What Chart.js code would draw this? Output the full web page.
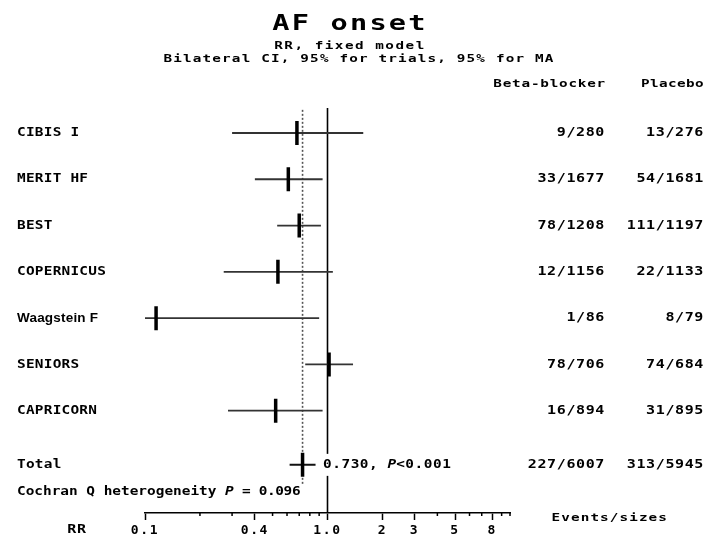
<!DOCTYPE html>
<html>
<head>
<meta charset="utf-8">
<script src="https://cdn.jsdelivr.net/npm/chart.js@4/dist/chart.umd.min.js"></script>
<style>
html,body{margin:0;padding:0;background:#fff;}
#wrap{width:707px;height:539px;position:relative;}
</style>
</head>
<body>
<div id="wrap"><canvas id="c" width="707" height="539"></canvas></div>
<script>
// ---- data ----
const studies = ['CIBIS I', 'MERIT HF', 'BEST', 'COPERNICUS', 'Waagstein F', 'SENIORS', 'CAPRICORN'];
const rr      = [0.68, 0.61, 0.70, 0.535, 0.115, 1.02, 0.52];
const ciLow   = [0.30, 0.40, 0.53, 0.27, 0.015, 0.755, 0.285];
const ciHigh  = [1.57, 0.94, 0.92, 1.07, 0.90, 1.38, 0.94];
const betaBlockerCounts = ['9/280', '33/1677', '78/1208', '12/1156', '1/86', '78/706', '16/894'];
const placeboCounts     = ['13/276', '54/1681', '111/1197', '22/1133', '8/79', '74/684', '31/895'];
const totalRR = 0.730;
const totalLow = 0.62;
const totalHigh = 0.86;
const totalBetaBlocker = '227/6007';
const totalPlacebo = '313/5945';
const totalP = '<0.001';
const heterogeneityP = '0.096';
const tickValues = [0.1, 0.2, 0.3, 0.4, 0.5, 0.6, 0.7, 0.8, 0.9, 1, 2, 3, 4, 5, 6, 7, 8, 9, 10];
const labeledTicks = [0.1, 0.4, 1, 2, 3, 5, 8];
const labeledTickText = ['0.1', '0.4', '1.0', '2', '3', '5', '8'];

// ---- layout helpers ----
const rowY = i => i + 1;                 // study rows
const totalY = studies.length + 1.17;    // total row
const MONO = '"DejaVu Sans Mono", monospace';

const datasets = [];
// markers (drawn on top)
datasets.push({
  type: 'scatter',
  data: studies.map((s, i) => ({x: rr[i], y: rowY(i)})).concat([{x: totalRR, y: totalY}]),
  pointStyle: 'line', rotation: 90, radius: 12, hoverRadius: 12,
  borderWidth: 3.5, borderColor: '#000', backgroundColor: '#000'
});
// confidence intervals
studies.forEach((s, i) => {
  datasets.push({
    type: 'line',
    data: [{x: ciLow[i], y: rowY(i)}, {x: ciHigh[i], y: rowY(i)}],
    borderColor: '#333', borderWidth: 1.8, pointRadius: 0, tension: 0
  });
});
datasets.push({
  type: 'line',
  data: [{x: totalLow, y: totalY}, {x: totalHigh, y: totalY}],
  borderColor: '#111', borderWidth: 2, pointRadius: 0, tension: 0
});
// no-effect line
datasets.push({
  type: 'line',
  data: [{x: 1, y: 0.46}, {x: 1, y: 9.3}],
  borderColor: '#000', borderWidth: 1.6, pointRadius: 0
});
// pooled estimate dotted line
datasets.push({
  type: 'line',
  data: [{x: totalRR, y: 0.5}, {x: totalRR, y: 8.6}],
  borderColor: '#555', borderWidth: 1.6, borderDash: [2, 2], pointRadius: 0
});

function drawText(ctx, s, x, y, o) {
  const sx = o.sx || 1;
  ctx.save();
  ctx.font = (o.italic ? 'italic ' : '') + (o.bold === false ? '' : 'bold ') + o.size + 'px ' + (o.family || MONO);
  ctx.letterSpacing = (o.spacing || 0) + 'px';
  ctx.fillStyle = '#000';
  ctx.textBaseline = 'middle';
  ctx.textAlign = o.align || 'left';
  ctx.translate(x, y);
  ctx.scale(sx, 1);
  ctx.fillText(s, 0, 0);
  const w = ctx.measureText(s).width * sx;
  ctx.restore();
  return w;
}

const textPlugin = {
  id: 'forestText',
  beforeDraw(chart) {
    chart.ctx.letterSpacing = '1.6px';
  },
  afterDatasetsDraw(chart) {
    const ctx = chart.ctx;
    const xs = chart.scales.x, ys = chart.scales.y;
    // titles
    drawText(ctx, 'AF onset', 350, 24, {size: 22, spacing: 1.7, sx: 1.3, align: 'center'});
    drawText(ctx, 'RR, fixed model', 350, 46, {size: 11, spacing: 1.15, sx: 1.3, align: 'center'});
    drawText(ctx, 'Bilateral CI, 95% for trials, 95% for MA', 359, 59, {size: 11, spacing: 0.9, sx: 1.3, align: 'center'});
    drawText(ctx, 'Beta-blocker', 606, 84, {size: 11, spacing: 0.6, sx: 1.3, align: 'right'});
    drawText(ctx, 'Placebo', 704, 84, {size: 11, spacing: 0.3, sx: 1.3, align: 'right'});
    // rows
    studies.forEach((s, i) => {
      const y = ys.getPixelForValue(rowY(i));
      if (s === 'Waagstein F') {
        drawText(ctx, s, 17, y, {size: 13.5, spacing: 0.2, family: '"Liberation Sans", Arial, sans-serif'});
      } else {
        drawText(ctx, s, 17, y, {size: 12, spacing: 0.2, sx: 1.2});
      }
      drawText(ctx, betaBlockerCounts[i], 605, y, {size: 12, spacing: 0.5, sx: 1.25, align: 'right'});
      drawText(ctx, placeboCounts[i], 704, y, {size: 12, spacing: 0.5, sx: 1.25, align: 'right'});
    });
    // total row
    const ty = ys.getPixelForValue(totalY);
    drawText(ctx, 'Total', 17, ty, {size: 12, spacing: 0.2, sx: 1.2});
    ctx.save();
    ctx.fillStyle = '#fff';
    ctx.fillRect(318, ty - 11, 140, 22);
    ctx.restore();
    let x = 323;
    x += drawText(ctx, totalRR.toFixed(3) + ', ', x, ty, {size: 12, spacing: 0.45, sx: 1.2});
    x += drawText(ctx, 'P', x, ty, {size: 12, spacing: 0, sx: 1.2, italic: true});
    drawText(ctx, totalP, x, ty, {size: 12, spacing: 0.45, sx: 1.2});
    drawText(ctx, totalBetaBlocker, 605, ty, {size: 12, spacing: 0.5, sx: 1.25, align: 'right'});
    drawText(ctx, totalPlacebo, 704, ty, {size: 12, spacing: 0.5, sx: 1.25, align: 'right'});
    // heterogeneity
    let hx = 17;
    hx += drawText(ctx, 'Cochran Q heterogeneity ', hx, 492, {size: 12, spacing: 0, sx: 1.2});
    hx += drawText(ctx, 'P', hx, 492, {size: 12, spacing: 0, sx: 1.2, italic: true});
    drawText(ctx, ' = ' + heterogeneityP, hx, 492, {size: 12, spacing: -0.3, sx: 1.2});
    // axis caption
    drawText(ctx, 'RR', 77, 530, {size: 12, spacing: 0.5, sx: 1.25, align: 'center'});
    drawText(ctx, 'Events/sizes', 668, 518, {size: 11, spacing: 0.84, sx: 1.3, align: 'right'});
    // minor ticks
    ctx.save();
    ctx.strokeStyle = '#000';
    ctx.lineWidth = 1.5;
    tickValues.forEach(v => {
      if (labeledTicks.includes(v)) return;
      const px = xs.getPixelForValue(v);
      ctx.beginPath();
      ctx.moveTo(px, xs.top);
      ctx.lineTo(px, xs.top + 3);
      ctx.stroke();
    });
    ctx.restore();
  }
};

new Chart(document.getElementById('c'), {
  data: {datasets},
  options: {
    responsive: false,
    devicePixelRatio: 1,
    animation: false,
    events: [],
    layout: {padding: {left: 145, right: 197, top: 86.7, bottom: 0}},
    plugins: {legend: {display: false}, tooltip: {enabled: false}, title: {display: false}},
    scales: {
      x: {
        type: 'logarithmic',
        min: 0.1, max: 10,
        afterBuildTicks: s => { s.ticks = tickValues.map(v => ({value: v})); },
        afterFit: s => { s.height = 26; },
        ticks: {
          autoSkip: false, maxRotation: 0, minRotation: 0, padding: 3,
          color: '#000',
          font: {family: MONO, size: 13, weight: 'bold'},
          callback: v => {
            const k = labeledTicks.indexOf(v);
            return k >= 0 ? labeledTickText[k] : '';
          }
        },
        grid: {
          display: true, drawOnChartArea: false, drawTicks: true, tickLength: 7, tickWidth: 1.5,
          color: 'transparent',
          tickColor: c => labeledTicks.includes(c.tick && c.tick.value) ? '#000' : 'transparent'
        },
        border: {display: true, color: '#000', width: 1.6}
      },
      y: {
        type: 'linear', reverse: true, min: 0, max: 9.21, display: false
      }
    }
  },
  plugins: [textPlugin]
});
</script>
</body>
</html>
